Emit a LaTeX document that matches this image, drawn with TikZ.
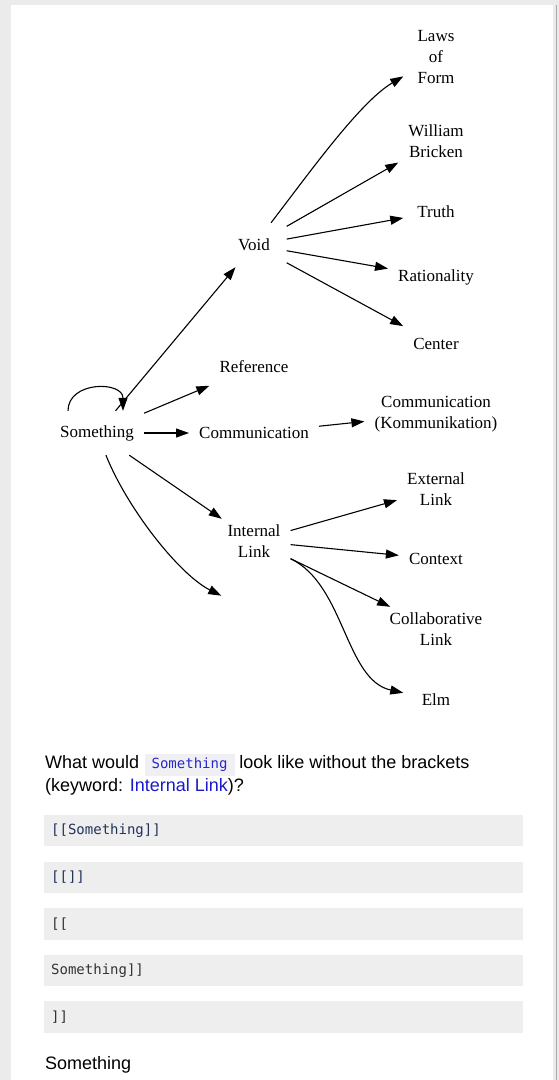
\documentclass[tikz,border=0pt]{standalone}
\usepackage{fontspec}
\setmainfont{Liberation Serif}
\newfontfamily\uisans{Liberation Sans}
\newfontfamily\uimono{DejaVu Sans Mono}
\usetikzlibrary{arrows.meta,positioning}
\definecolor{pagegray}{HTML}{EBEBEB}
\definecolor{rulegray}{HTML}{A8A8A8}
\definecolor{codegray}{HTML}{EEEEEE}
\definecolor{inlinebg}{HTML}{F0F0F4}
\definecolor{codeblue}{HTML}{2828C4}
\definecolor{linkblue}{HTML}{1A1ACC}
\definecolor{codenavy}{HTML}{22325C}
\definecolor{codedark}{HTML}{333333}
\begin{document}
\begin{tikzpicture}[x=1pt,y=-1pt,
	vtx/.style={rectangle,minimum width=65pt,minimum height=44pt,inner xsep=10pt,inner ysep=5pt,align=center,font=\fontsize{17}{21}\selectfont},
	arr/.style={-{Triangle[length=13pt,width=9pt]},line width=1.1pt},
	prose/.style={anchor=base west,inner sep=0pt,font=\uisans\fontsize{18}{23}\selectfont},
	codebox/.style={anchor=north west,fill=codegray,text width=465pt,align=left,inner xsep=7pt,inner ysep=0pt,minimum height=31.5pt,text height=11pt,text depth=2pt,font=\uimono\fontsize{14}{16}\selectfont}]
		\useasboundingbox(0,0)rectangle(559,1080);
		\fill[pagegray](0,0)rectangle(559,1080);
		\fill[white](11,5)rectangle(553,1080);
		\draw[rulegray,line width=1.5pt](556.5,5)--(556.5,1080);
		\node[vtx](something)at(97,433){Something};
		\node[vtx](void)at(254,245){Void};
		\node[vtx](reference)at(254,367){Reference};
		\node[vtx](communication)at(254,433){Communication};
		\node[vtx](internal)at(254,541){Internal\\Link};
		\node[vtx](blank)at(254,612){};
		\node[vtx](laws)at(436,57){Laws\\of\\Form};
		\node[vtx](bricken)at(436,141){William\\Bricken};
		\node[vtx](truth)at(436,212){Truth};
		\node[vtx](rationality)at(436,277){Rationality};
		\node[vtx](center)at(436,344){Center};
		\node[vtx](kommunikation)at(436,414){Communication\\(Kommunikation)};
		\node[vtx](external)at(436,489){External\\Link};
		\node[vtx](context)at(436,559){Context};
		\node[vtx](collab)at(436,629){Collaborative\\Link};
		\node[vtx](elm)at(436,700){Elm};
		\draw[arr]([xshift=-29pt]something.north)..controls +(0,-30) and +(0,-30)..([xshift=26pt]something.north);
		\draw[arr](something)--(void);
		\draw[arr](something)--(reference);
		\draw[arr](something)--(communication);
		\draw[arr](something)--(internal);
		\draw[arr](something)..controls(128,510) and (180,575)..(blank);
		\draw[arr](void)..controls(310,172) and (360,102)..(laws);
		\draw[arr](void)--(bricken);
		\draw[arr](void)--(truth);
		\draw[arr](void)--(rationality);
		\draw[arr](void)--(center);
		\draw[arr](communication)--(kommunikation);
		\draw[arr](internal)--(external);
		\draw[arr](internal)--(context);
		\draw[arr](internal)--(collab);
		\draw[arr](internal)..controls(345,585) and (345,680)..(elm);
		\node[prose](askA)at(45,768){What would};
		\node[anchor=base west,fill=inlinebg,text=codeblue,inner xsep=7pt,inner ysep=4pt,text height=10.5pt,text depth=3.5pt,font=\uimono\fontsize{14}{16}\selectfont](askcode)at([xshift=5pt]askA.base east){Something};
		\node[prose](askB)at([xshift=4.5pt]askcode.base east){look like without the brackets};
		\node[prose](askC)at(45,791.7){(keyword: \textcolor{linkblue}{Internal Link})?};
		\node[codebox,text=codenavy](blockA)at(44,814.5){[[Something]]};
		\node[codebox,text=codenavy](blockB)at(44,861.5){[[]]};
		\node[codebox,text=codedark](blockC)at(44,908){[[};
		\node[codebox,text=codedark](blockD)at(44,954.5){Something]]};
		\node[codebox,text=codedark](blockE)at(44,1001){]]};
		\node[prose](answer)at(45,1069){Something};
	\end{tikzpicture}
\end{document}
